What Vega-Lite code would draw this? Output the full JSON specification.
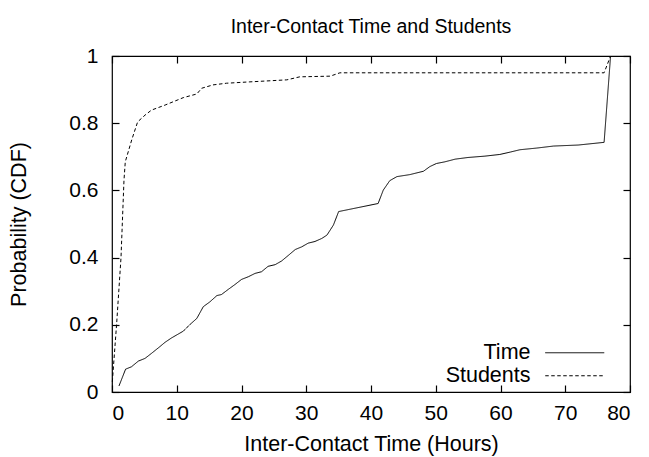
{
  "$schema": "https://vega.github.io/schema/vega-lite/v6.json",
  "width": 518,
  "height": 336,
  "autosize": {"type": "none"},
  "padding": {"left": 112, "top": 56, "right": 19, "bottom": 65},
  "background": "white",
  "title": {"text": "Inter-Contact Time and Students", "fontSize": 19.5, "font": "Liberation Sans", "fontWeight": "normal", "offset": 8, "color": "black"},
  "config": {
    "view": {"stroke": "black", "strokeWidth": 1.2},
    "axis": {"labelFont": "Liberation Sans", "titleFont": "Liberation Sans", "labelColor": "black", "titleColor": "black", "tickColor": "black", "grid": false, "domain": false, "labelFontSize": 21, "titleFontSize": 21.5, "titleFontWeight": "normal", "tickWidth": 1.2}
  },
  "data": {"values": [
    {"series": "Time", "x": 1.08, "y": 0.018},
    {"series": "Time", "x": 2.1, "y": 0.068},
    {"series": "Time", "x": 3.0, "y": 0.075},
    {"series": "Time", "x": 4.07, "y": 0.092},
    {"series": "Time", "x": 5.1, "y": 0.1},
    {"series": "Time", "x": 6.1, "y": 0.115},
    {"series": "Time", "x": 7.2, "y": 0.132},
    {"series": "Time", "x": 8.2, "y": 0.148},
    {"series": "Time", "x": 9.2, "y": 0.161},
    {"series": "Time", "x": 11.0, "y": 0.181},
    {"series": "Time", "x": 12.05, "y": 0.201},
    {"series": "Time", "x": 13.1, "y": 0.219},
    {"series": "Time", "x": 14.1, "y": 0.254},
    {"series": "Time", "x": 15.1, "y": 0.268},
    {"series": "Time", "x": 16.2, "y": 0.287},
    {"series": "Time", "x": 16.9, "y": 0.29},
    {"series": "Time", "x": 18.0, "y": 0.306},
    {"series": "Time", "x": 19.0, "y": 0.32},
    {"series": "Time", "x": 20.0, "y": 0.335},
    {"series": "Time", "x": 21.05, "y": 0.343},
    {"series": "Time", "x": 22.1, "y": 0.353},
    {"series": "Time", "x": 23.1, "y": 0.358},
    {"series": "Time", "x": 24.1, "y": 0.374},
    {"series": "Time", "x": 25.2, "y": 0.379},
    {"series": "Time", "x": 26.2, "y": 0.39},
    {"series": "Time", "x": 27.2, "y": 0.406},
    {"series": "Time", "x": 28.3, "y": 0.424},
    {"series": "Time", "x": 29.3, "y": 0.432},
    {"series": "Time", "x": 30.3, "y": 0.443},
    {"series": "Time", "x": 31.35, "y": 0.448},
    {"series": "Time", "x": 32.4, "y": 0.457},
    {"series": "Time", "x": 33.2, "y": 0.467},
    {"series": "Time", "x": 34.2, "y": 0.497},
    {"series": "Time", "x": 35.0, "y": 0.537},
    {"series": "Time", "x": 41.1, "y": 0.561},
    {"series": "Time", "x": 41.9, "y": 0.601},
    {"series": "Time", "x": 42.9, "y": 0.629},
    {"series": "Time", "x": 44.0, "y": 0.641},
    {"series": "Time", "x": 46.0, "y": 0.647},
    {"series": "Time", "x": 48.1, "y": 0.657},
    {"series": "Time", "x": 49.1, "y": 0.671},
    {"series": "Time", "x": 50.1, "y": 0.68},
    {"series": "Time", "x": 51.4, "y": 0.685},
    {"series": "Time", "x": 53.0, "y": 0.693},
    {"series": "Time", "x": 55.0, "y": 0.698},
    {"series": "Time", "x": 57.6, "y": 0.702},
    {"series": "Time", "x": 59.9, "y": 0.707},
    {"series": "Time", "x": 61.5, "y": 0.714},
    {"series": "Time", "x": 63.0, "y": 0.721},
    {"series": "Time", "x": 65.6, "y": 0.726},
    {"series": "Time", "x": 68.2, "y": 0.732},
    {"series": "Time", "x": 72.0, "y": 0.735},
    {"series": "Time", "x": 76.0, "y": 0.743},
    {"series": "Time", "x": 77.0, "y": 1.0},
    {"series": "Students", "x": 0.05, "y": 0.03},
    {"series": "Students", "x": 0.72, "y": 0.204},
    {"series": "Students", "x": 1.39, "y": 0.4},
    {"series": "Students", "x": 1.85, "y": 0.63},
    {"series": "Students", "x": 2.05, "y": 0.685},
    {"series": "Students", "x": 3.04, "y": 0.75},
    {"series": "Students", "x": 3.96, "y": 0.804},
    {"series": "Students", "x": 5.1, "y": 0.824},
    {"series": "Students", "x": 6.1, "y": 0.839},
    {"series": "Students", "x": 8.2, "y": 0.854},
    {"series": "Students", "x": 11.0, "y": 0.876},
    {"series": "Students", "x": 13.1, "y": 0.887},
    {"series": "Students", "x": 13.85, "y": 0.904},
    {"series": "Students", "x": 15.6, "y": 0.914},
    {"series": "Students", "x": 17.7, "y": 0.919},
    {"series": "Students", "x": 21.3, "y": 0.923},
    {"series": "Students", "x": 27.0, "y": 0.929},
    {"series": "Students", "x": 29.0, "y": 0.938},
    {"series": "Students", "x": 33.7, "y": 0.94},
    {"series": "Students", "x": 35.2, "y": 0.95},
    {"series": "Students", "x": 76.0, "y": 0.95},
    {"series": "Students", "x": 77.0, "y": 1.0}
  ]},
  "layer": [
    {
      "mark": {"type": "line", "color": "black", "strokeWidth": 1},
      "encoding": {
        "x": {"field": "x", "type": "quantitative", "scale": {"domain": [0, 80], "nice": false, "zero": false},
              "axis": {"orient": "bottom", "values": [0,10,20,30,40,50,60,70,80], "tickSize": -7, "labelPadding": 17, "title": "Inter-Contact Time (Hours)", "titlePadding": 10}},
        "y": {"field": "y", "type": "quantitative", "scale": {"domain": [0, 1], "nice": false},
              "axis": {"orient": "left", "values": [0,0.2,0.4,0.6,0.8,1], "format": "~g", "tickSize": -7, "labelPadding": 21, "title": "Probability (CDF)", "titlePadding": 38}},
        "strokeDash": {"field": "series", "type": "nominal",
              "scale": {"domain": ["Time", "Students"], "range": [[1, 0], [3.5, 2.5]]},
              "legend": {"title": null, "orient": "none", "legendX": 452, "legendY": 286, "padding": 0,
                         "symbolType": "M-3,0H3", "symbolSize": 387, "symbolStrokeColor": "black", "symbolStrokeWidth": 1,
                         "labelAlign": "right", "labelOffset": -55, "labelFontSize": 21.5, "labelFont": "Liberation Sans", "labelColor": "black", "rowPadding": 0}}
      }
    },
    {
      "mark": {"type": "line", "opacity": 0},
      "encoding": {
        "x": {"field": "x", "type": "quantitative", "scale": {"domain": [0, 80], "nice": false, "zero": false},
              "axis": {"orient": "top", "values": [0,10,20,30,40,50,60,70,80], "tickSize": -7, "labels": false, "title": null}},
        "y": {"field": "y", "type": "quantitative", "scale": {"domain": [0, 1], "nice": false},
              "axis": {"orient": "right", "values": [0,0.2,0.4,0.6,0.8,1], "tickSize": -7, "labels": false, "title": null}}
      }
    }
  ],
  "resolve": {"axis": {"x": "independent", "y": "independent"}}
}
